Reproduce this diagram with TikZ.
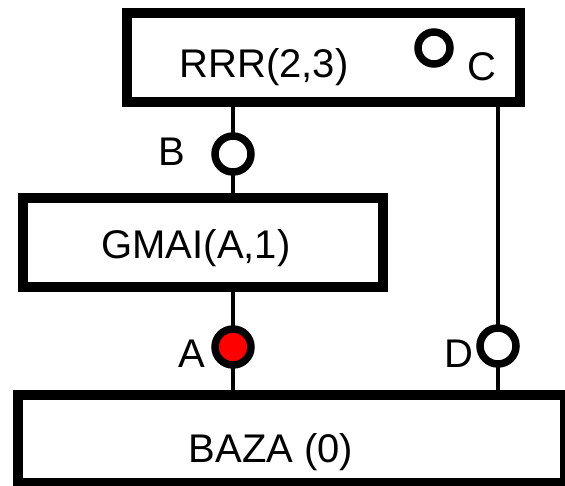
\documentclass[tikz,border=0pt]{standalone}
\usepackage{fontspec}
\setmainfont{Liberation Sans}
\begin{document}
\begin{tikzpicture}[x=1pt,y=-1pt,
  box/.style={draw=black,line width=10pt,fill=white,inner sep=0pt,rectangle},
  txt/.style={anchor=base,inner sep=0pt,font=\fontsize{40}{48}\selectfont},
  lbl/.style={anchor=base,inner sep=0pt,font=\fontsize{40}{48}\selectfont},
  port/.style={draw=black,line width=7.5pt,circle,fill=white,minimum size=36pt,inner sep=0pt},
  wire/.style={draw=black,line width=4pt}]
\clip (0,0) rectangle (565,485);
\fill[white] (0,0) rectangle (565,485);
% boxes
\node[box,minimum width=393pt,minimum height=89pt] (rrr) at (323.5,57.5) {};
\node[box,minimum width=360pt,minimum height=89pt] (gmai) at (203,242.5) {};
\node[box,minimum width=547pt,minimum height=88pt] (baza) at (291.5,439) {};
% texts
\node[txt] (trrr) at (264,77) {RRR(2,3)};
\node[txt] (tgmai) at (196,258) {GMAI(A,1)};
\node[txt] (tbaza) at (271,462) {BAZA (0)};
% port positions
\coordinate (pB) at (233,154);
\coordinate (pA) at (233,347);
\coordinate (pD) at (498,346);
% wires
\draw[wire] (rrr.south -| pB) -- (gmai.north -| pB);
\draw[wire] (gmai.south -| pA) -- (baza.north -| pA);
\draw[wire] (rrr.south -| pD) -- (baza.north -| pD);
% redraw box borders over wire ends
% ports
\node[port] (B) at (pB) {};
\node[port,fill=red] (A) at (pA) {};
\node[port] (D) at (pD) {};
\node[port,minimum size=32pt] (C) at (434,48) {};
% labels
\node[lbl] (lB) at (172,165) {B};
\node[lbl] (lA) at (192,367) {A};
\node[lbl] (lD) at (459,367) {D};
\node[lbl] (lC) at (482,80) {C};
\end{tikzpicture}
\end{document}
